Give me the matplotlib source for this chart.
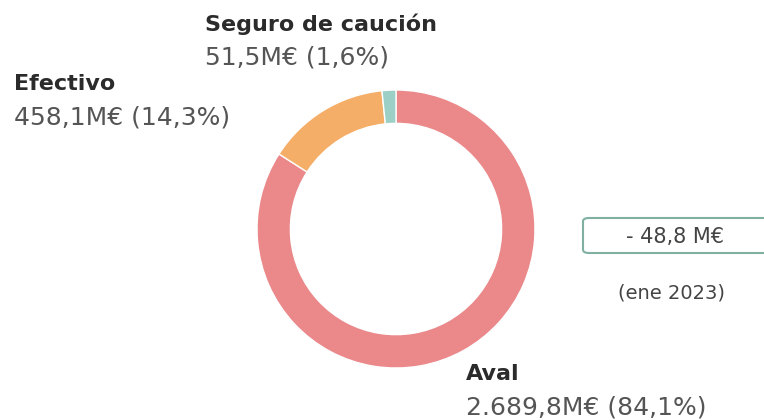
import matplotlib.pyplot as plt
from matplotlib.patches import FancyBboxPatch

labels = ['Aval', 'Efectivo', 'Seguro de caución']
values = [2689.8, 458.1, 51.5]
value_labels = ['2.689,8M€ (84,1%)', '458,1M€ (14,3%)', '51,5M€ (1,6%)']
colors = ['#EA888A', '#F5AE67', '#9CCFC5']
diff_label = '- 48,8 M€'
date_label = '(ene 2023)'

W, H = 764, 420
fig = plt.figure(figsize=(W / 100, H / 100), dpi=100)

# donut
ax = fig.add_axes([257 / W, (H - 368) / H, 278 / W, 278 / H])
ax.pie(values, colors=colors, startangle=90, counterclock=False,
       wedgeprops=dict(width=0.24, edgecolor='white', linewidth=1))
ax.set_aspect('equal')
ax.set_xlim(-1, 1)
ax.set_ylim(-1, 1)
ax.axis('off')

name_kw = dict(fontsize=16, fontweight='bold', color='#2b2b2b', family='DejaVu Sans')
val_kw = dict(fontsize=18, color='#555555', family='DejaVu Sans')


def px(x, y):
    return x / W, 1 - y / H


pos = {'Aval': (466, 374, 408),
       'Efectivo': (14, 84, 118),
       'Seguro de caución': (205, 24, 57)}
for lab, vl in zip(labels, value_labels):
    x, y1, y2 = pos[lab]
    fig.text(*px(x, y1), lab, va='center', ha='left', **name_kw)
    fig.text(*px(x, y2), vl, va='center', ha='left', **val_kw)

# box
box = FancyBboxPatch((583 / W, 1 - 253 / H), 200 / W, 35 / H,
                     boxstyle='round,pad=0,rounding_size=0.008',
                     transform=fig.transFigure, facecolor='white',
                     edgecolor='#7FB0A2', linewidth=1.5, clip_on=False)
fig.patches.append(box)
fig.text(*px(675, 237), diff_label, ha='center', va='center', fontsize=15,
         color='#444444', family='DejaVu Sans')
fig.text(*px(672, 293), date_label, ha='center', va='center', fontsize=14,
         color='#444444', family='DejaVu Sans')

fig.savefig('out.png', dpi=100)
